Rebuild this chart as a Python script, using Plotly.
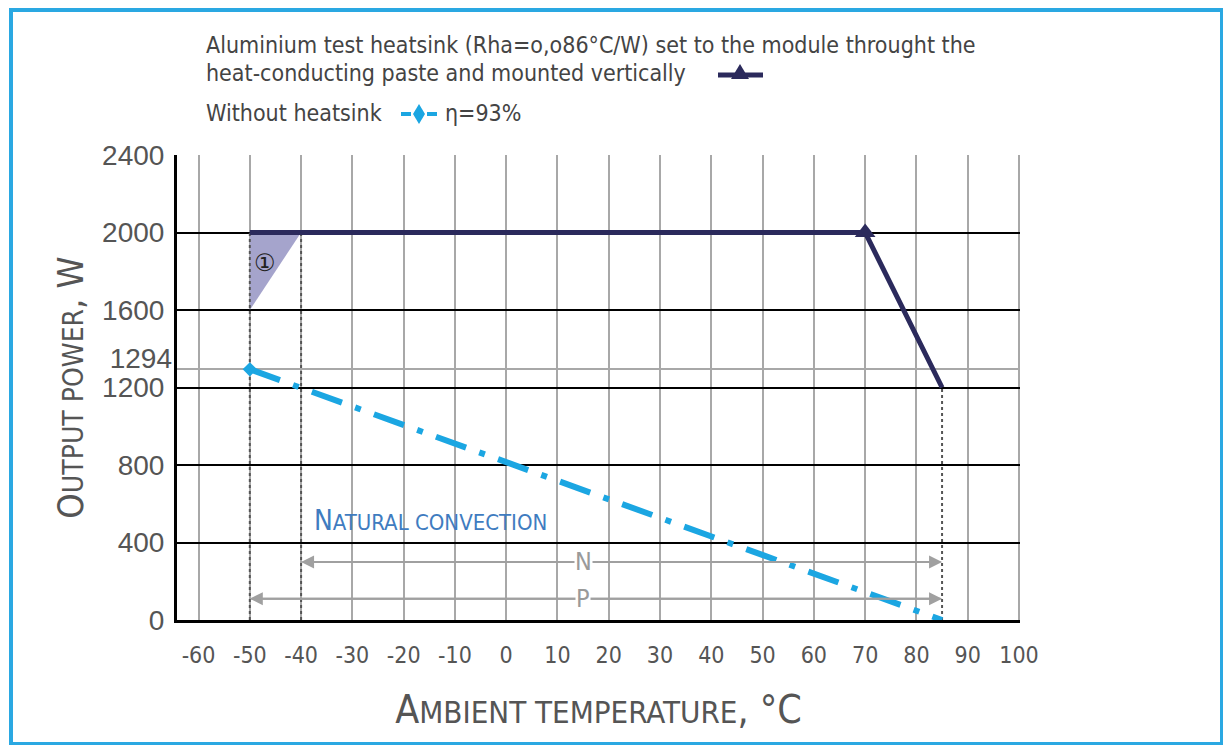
import plotly.graph_objects as go

# ---- data ----
x_ticks = [-60, -50, -40, -30, -20, -10, 0, 10, 20, 30, 40, 50, 60, 70, 80, 90, 100]
y_ticks = [0, 400, 800, 1200, 1600, 2000, 2400]
y_extra_tick = [1294]

heatsink_t = [-50, 70, 85]
heatsink_p = [2000, 2000, 1200]

noheat_t = [-50, 85]
noheat_p = [1294, 0]

zone1_t = [-50, -40, -50]
zone1_p = [2000, 2000, 1600]

N_range = [-40, 85]
P_range = [-50, 85]
N_level = 300
P_level = 110

# ---- layout helpers (screen pixel -> paper) ----
OFF = 8  # page body margin
L, R, T, B = 177, 1020, 155, 620
W, H = 1231 - 2 * OFF, 753 - 2 * OFF
def pxx(px):
    return (px - L) / (R - L)
def pxy(py):
    return (B - py) / (B - T)

FONT = "DejaVu Sans Condensed, Liberation Sans Narrow, Liberation Sans, sans-serif"
NAVY = "#2b2a5c"
BLUE = "#1ba6e2"
GRAY = "#444444"

fig = go.Figure()

# shaded zone 1
fig.add_trace(go.Scatter(x=zone1_t, y=zone1_p, fill="toself", fillcolor="#a5a4cc",
                         line=dict(width=0), mode="lines", showlegend=False, hoverinfo="skip"))

# dotted verticals
for xv, yv in [(-50, 2000), (-40, 2000), (85, 1200)]:
    fig.add_trace(go.Scatter(x=[xv, xv], y=[0, yv], mode="lines",
                             line=dict(color="#555555", width=2, dash="dot"),
                             showlegend=False, hoverinfo="skip"))

# without heatsink
fig.add_trace(go.Scatter(x=noheat_t, y=noheat_p, mode="lines",
                         line=dict(color=BLUE, width=6, dash="32px,14px,6px,14px"),
                         showlegend=False))
fig.add_trace(go.Scatter(x=noheat_t[:1], y=noheat_p[:1], mode="markers",
                         marker=dict(symbol="diamond", size=11, color=BLUE),
                         showlegend=False))

# with heatsink
fig.add_trace(go.Scatter(x=heatsink_t, y=heatsink_p, mode="lines",
                         line=dict(color=NAVY, width=5), showlegend=False))
fig.add_trace(go.Scatter(x=heatsink_t[1:2], y=heatsink_p[1:2], mode="markers",
                         marker=dict(symbol="triangle-up", size=18, color=NAVY),
                         showlegend=False))

# 1294 gridline axis
fig.add_trace(go.Scatter(x=[None], y=[None], yaxis="y2", showlegend=False))

ann = []
# N / P arrows
for rng, lvl, lab in [(N_range, N_level, "N"), (P_range, P_level, "P")]:
    mid = 15
    for a, b in [(rng[0], rng[1]), (rng[1], rng[0])]:
        ann.append(dict(x=a, y=lvl, ax=b, ay=lvl, xref="x", yref="y", axref="x", ayref="y",
                        text="", showarrow=True, arrowhead=2, arrowsize=1.3, arrowwidth=2,
                        arrowcolor="#a0a0a0"))
    ann.append(dict(x=mid, y=lvl, xref="x", yref="y", text=lab, showarrow=False,
                    bgcolor="white", borderpad=0,
                    font=dict(family=FONT, size=25, color="#9a9a9a")))

# circled 1
ann.append(dict(x=-47.0, y=1845, xref="x", yref="y", text="①", showarrow=False,
                font=dict(family="DejaVu Sans", size=24, color="#222222")))

# natural convection
ann.append(dict(x=-37.9, y=511, xref="x", yref="y", xanchor="left", showarrow=False,
                text="N<span style='font-size:22px'>ATURAL CONVECTION</span>",
                font=dict(family=FONT, size=28, color="#3f7cc0")))

# legend texts
LEG = dict(family=FONT, size=23, color=GRAY)
def leg_text(px, py, txt):
    ann.append(dict(x=pxx(px), y=pxy(py), xref="paper", yref="paper", xanchor="left",
                    yanchor="middle", showarrow=False, text=txt, font=LEG))
leg_text(204, 45, "Aluminium test heatsink (Rha=o,o86°C/W) set to the module throught the")
leg_text(204, 73, "heat-conducting paste and mounted vertically")
leg_text(204, 113, "Without heatsink")
leg_text(443, 113, "η=93%")

shapes = []
# legend symbol: navy line with triangle
shapes.append(dict(type="line", xref="paper", yref="paper", x0=pxx(718), x1=pxx(763),
                   y0=pxy(75), y1=pxy(75), line=dict(color=NAVY, width=5)))
shapes.append(dict(type="path", xref="paper", yref="paper",
                   path=f"M {pxx(731)} {pxy(79)} L {pxx(749)} {pxy(79)} L {pxx(740)} {pxy(64)} Z",
                   fillcolor=NAVY, line=dict(width=0)))
# legend symbol: blue dashes with diamond
shapes.append(dict(type="line", xref="paper", yref="paper", x0=pxx(401), x1=pxx(411),
                   y0=pxy(114), y1=pxy(114), line=dict(color=BLUE, width=4)))
shapes.append(dict(type="line", xref="paper", yref="paper", x0=pxx(427), x1=pxx(437),
                   y0=pxy(114), y1=pxy(114), line=dict(color=BLUE, width=4)))
shapes.append(dict(type="path", xref="paper", yref="paper",
                   path=f"M {pxx(419)} {pxy(104)} L {pxx(425)} {pxy(114)} L {pxx(419)} {pxy(124)} L {pxx(413)} {pxy(114)} Z",
                   fillcolor=BLUE, line=dict(width=0)))
# outer blue frame
shapes.append(dict(type="rect", xref="paper", yref="paper", x0=pxx(11), x1=pxx(1222),
                   y0=pxy(744), y1=pxy(10), line=dict(color="#2aa8e2", width=4), layer="below"))

fig.update_layout(
    width=W, height=H,
    margin=dict(l=L - OFF, r=(W + OFF) - R, t=T - OFF, b=(H + OFF) - B),
    paper_bgcolor="white", plot_bgcolor="white",
    showlegend=False,
    annotations=ann, shapes=shapes,
    xaxis=dict(range=[-64.2, 100.2], tickvals=x_ticks, ticktext=[f"{v}" for v in x_ticks],
               showgrid=True, gridcolor="#a8a8a8", gridwidth=2, zeroline=False,
               showline=True, linecolor="black", linewidth=3, ticks="",
               ticklabelstandoff=12,
               tickfont=dict(family=FONT, size=23, color="#555555"),
               title=dict(text="A<span style='font-size:31px'>MBIENT TEMPERATURE</span>, °C",
                          font=dict(family=FONT, size=39, color="#555555"), standoff=30)),
    yaxis=dict(range=[0, 2400], tickvals=y_ticks, showgrid=True, gridcolor="black", gridwidth=2,
               zeroline=False, showline=True, linecolor="black", linewidth=3, ticks="",
               ticklabelstandoff=4,
               tickfont=dict(family="Liberation Sans, Arial", size=28, color="#555555"),
               title=dict(text="O<span style='font-size:28px'>UTPUT POWER</span>, W",
                          font=dict(family=FONT, size=36, color="#555555"), standoff=8)),
    yaxis2=dict(range=[0, 2400], overlaying="y", side="left", tickvals=y_extra_tick,
                showgrid=True, gridcolor="#a8a8a8", gridwidth=1.5, zeroline=False,
                showline=False, ticks="", ticklabelshift=-11, ticklabelstandoff=4,
                tickfont=dict(family="Liberation Sans, Arial", size=28, color="#555555")),
)

fig.write_html("out.html")
